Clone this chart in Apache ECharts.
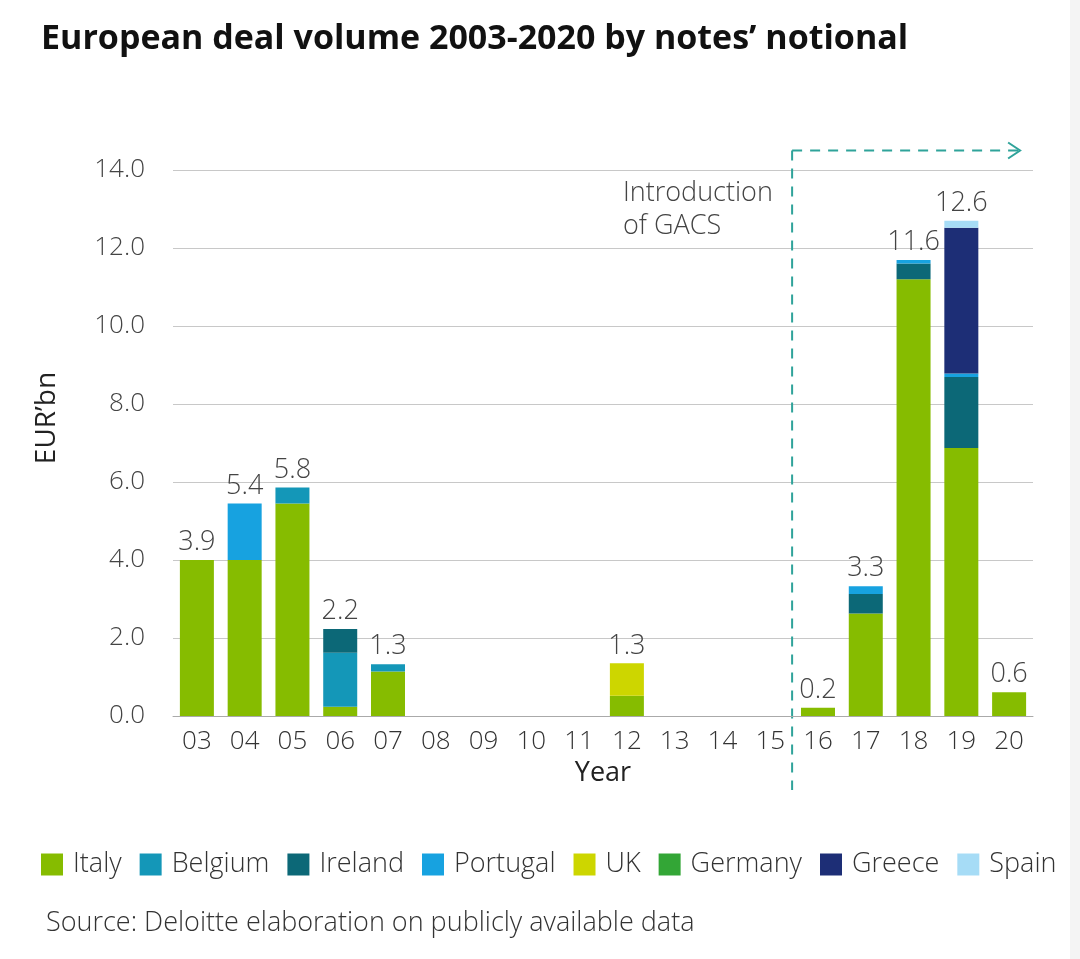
<!DOCTYPE html>
<html>
<head>
<meta charset="utf-8">
<script src="https://cdn.jsdelivr.net/npm/echarts@6/dist/echarts.min.js"></script>
<style>
html,body{margin:0;padding:0;background:#fff;}
#c{width:1080px;height:959px;}
</style>
</head>
<body>
<div id="c"></div>
<script>
var categories = ['03','04','05','06','07','08','09','10','11','12','13','14','15','16','17','18','19','20'];
var italy    = [4.0, 4.0, 5.45, 0.24, 1.14, null, null, null, null, 0.52, null, null, null, 0.21, 2.63, 11.2, 6.87, 0.61];
var belgium  = [null, null, 0.41, 1.38, 0.19, null, null, null, null, null, null, null, null, null, null, null, null, null];
var ireland  = [null, null, null, 0.61, null, null, null, null, null, null, null, null, null, null, 0.5, 0.4, 1.82, null];
var portugal = [null, 1.45, null, null, null, null, null, null, null, null, null, null, null, null, 0.2, 0.09, 0.09, null];
var uk       = [null, null, null, null, null, null, null, null, null, 0.83, null, null, null, null, null, null, null, null];
var germany  = [null, null, null, null, null, null, null, null, null, null, null, null, null, null, null, null, null, null];
var greece   = [null, null, null, null, null, null, null, null, null, null, null, null, null, null, null, null, 3.74, null];
var spain    = [null, null, null, null, null, null, null, null, null, null, null, null, null, null, null, null, 0.18, null];
var totalLabels = ['3.9','5.4','5.8','2.2','1.3','','','','','1.3','','','','0.2','3.3','11.6','12.6','0.6'];
var yTicks = [0, 2, 4, 6, 8, 10, 12, 14];

var seriesDefs = [
  ['Italy', italy, '#86bc00'],
  ['Belgium', belgium, '#1497b8'],
  ['Ireland', ireland, '#0c6877'],
  ['Portugal', portugal, '#17a2e0'],
  ['UK', uk, '#cdd600'],
  ['Germany', germany, '#33a636'],
  ['Greece', greece, '#1d2e76'],
  ['Spain', spain, '#a6dcf6']
];

var FONT = '"Open Sans", "Noto Sans", sans-serif';
var LW = 300;
var chart = echarts.init(document.getElementById('c'), null, {renderer: 'canvas'});

var series = seriesDefs.map(function (d) {
  return {
    name: d[0], type: 'bar', stack: 'total', data: d[1],
    barWidth: 34,
    itemStyle: {color: d[2]},
    emphasis: {disabled: true}
  };
});
series.push({
  name: 'labels', type: 'bar', stack: 'total',
  data: categories.map(function () { return 0; }),
  barWidth: 34,
  itemStyle: {color: 'rgba(0,0,0,0)'},
  label: {
    show: true, position: 'top', distance: 4,
    fontFamily: FONT, fontWeight: LW, fontSize: 27, color: '#444',
    formatter: function (p) { return totalLabels[p.dataIndex]; }
  },
  emphasis: {disabled: true}
});

chart.setOption({
  animation: false,
  backgroundColor: '#fff',
  title: {
    text: 'European deal volume 2003-2020 by notes\u2019 notional',
    left: 36, top: 17,
    textStyle: {fontFamily: FONT, fontSize: 34, fontWeight: 'bold', color: '#111'}
  },
  legend: {
    data: seriesDefs.map(function (d) { return d[0]; }),
    left: 36, top: 846,
    icon: 'rect', itemWidth: 22, itemHeight: 22, itemGap: 18,
    textStyle: {fontFamily: FONT, fontWeight: LW, fontSize: 27, color: '#333', padding: [0, 0, 0, 5]},
    selectedMode: false
  },
  grid: {left: 173, right: 47, top: 170, bottom: 243},
  xAxis: {
    type: 'category', data: categories,
    axisTick: {show: false},
    axisLine: {lineStyle: {color: '#aaa', width: 1}},
    axisLabel: {fontFamily: FONT, fontWeight: LW, fontSize: 26, color: '#333', margin: 13},
    name: 'Year', nameLocation: 'middle', nameGap: 42,
    nameTextStyle: {fontFamily: FONT, fontWeight: 400, fontSize: 27, color: '#222'}
  },
  yAxis: {
    type: 'value', min: yTicks[0], max: yTicks[yTicks.length - 1], interval: 2,
    axisLine: {show: false}, axisTick: {show: false},
    splitLine: {lineStyle: {color: '#c8c8c8', width: 1}},
    axisLabel: {
      fontFamily: FONT, fontWeight: LW, fontSize: 26, color: '#444', margin: 28,
      formatter: function (v) { return v.toFixed(1); }
    }
  },
  series: series
});

// annotation: introduction of GACS
var x15 = chart.convertToPixel({xAxisIndex: 0}, '15');
var x16 = chart.convertToPixel({xAxisIndex: 0}, '16');
var x20 = chart.convertToPixel({xAxisIndex: 0}, '20');
var xb = (x15 + x16) / 2 - 2;
var yTop = chart.convertToPixel({yAxisIndex: 0}, 14.5);
var yBot = chart.convertToPixel({yAxisIndex: 0}, -1.9);
var xEnd = x20 + 11;
var teal = '#2fa39a';
chart.setOption({
  graphic: [
    {type: 'line', shape: {x1: xb, y1: yTop, x2: xb, y2: yBot},
     style: {stroke: teal, lineWidth: 2, lineDash: [10, 8]}},
    {type: 'line', shape: {x1: xb, y1: yTop, x2: xEnd - 2, y2: yTop},
     style: {stroke: teal, lineWidth: 2, lineDash: [10, 8]}},
    {type: 'polyline', shape: {points: [[xEnd - 12, yTop - 8], [xEnd, yTop], [xEnd - 12, yTop + 8]]},
     style: {stroke: teal, lineWidth: 2, fill: null}},
    {type: 'text', left: 623, top: 177,
     style: {text: 'Introduction\nof GACS', font: LW + ' 27px ' + FONT, fill: '#444', lineHeight: 33}},
    {type: 'text', x: 47, y: 418, rotation: Math.PI / 2,
     style: {text: 'EUR\u2019bn', font: '400 28px ' + FONT, fill: '#222', textAlign: 'center', textVerticalAlign: 'middle'}},
    {type: 'text', left: 46, top: 910,
     style: {text: 'Source: Deloitte elaboration on publicly available data', font: LW + ' 27px ' + FONT, fill: '#333'}},
    {type: 'rect', shape: {x: 1070, y: 0, width: 10, height: 959},
     style: {fill: '#f4f4f4'}}
  ]
});
</script>
</body>
</html>
